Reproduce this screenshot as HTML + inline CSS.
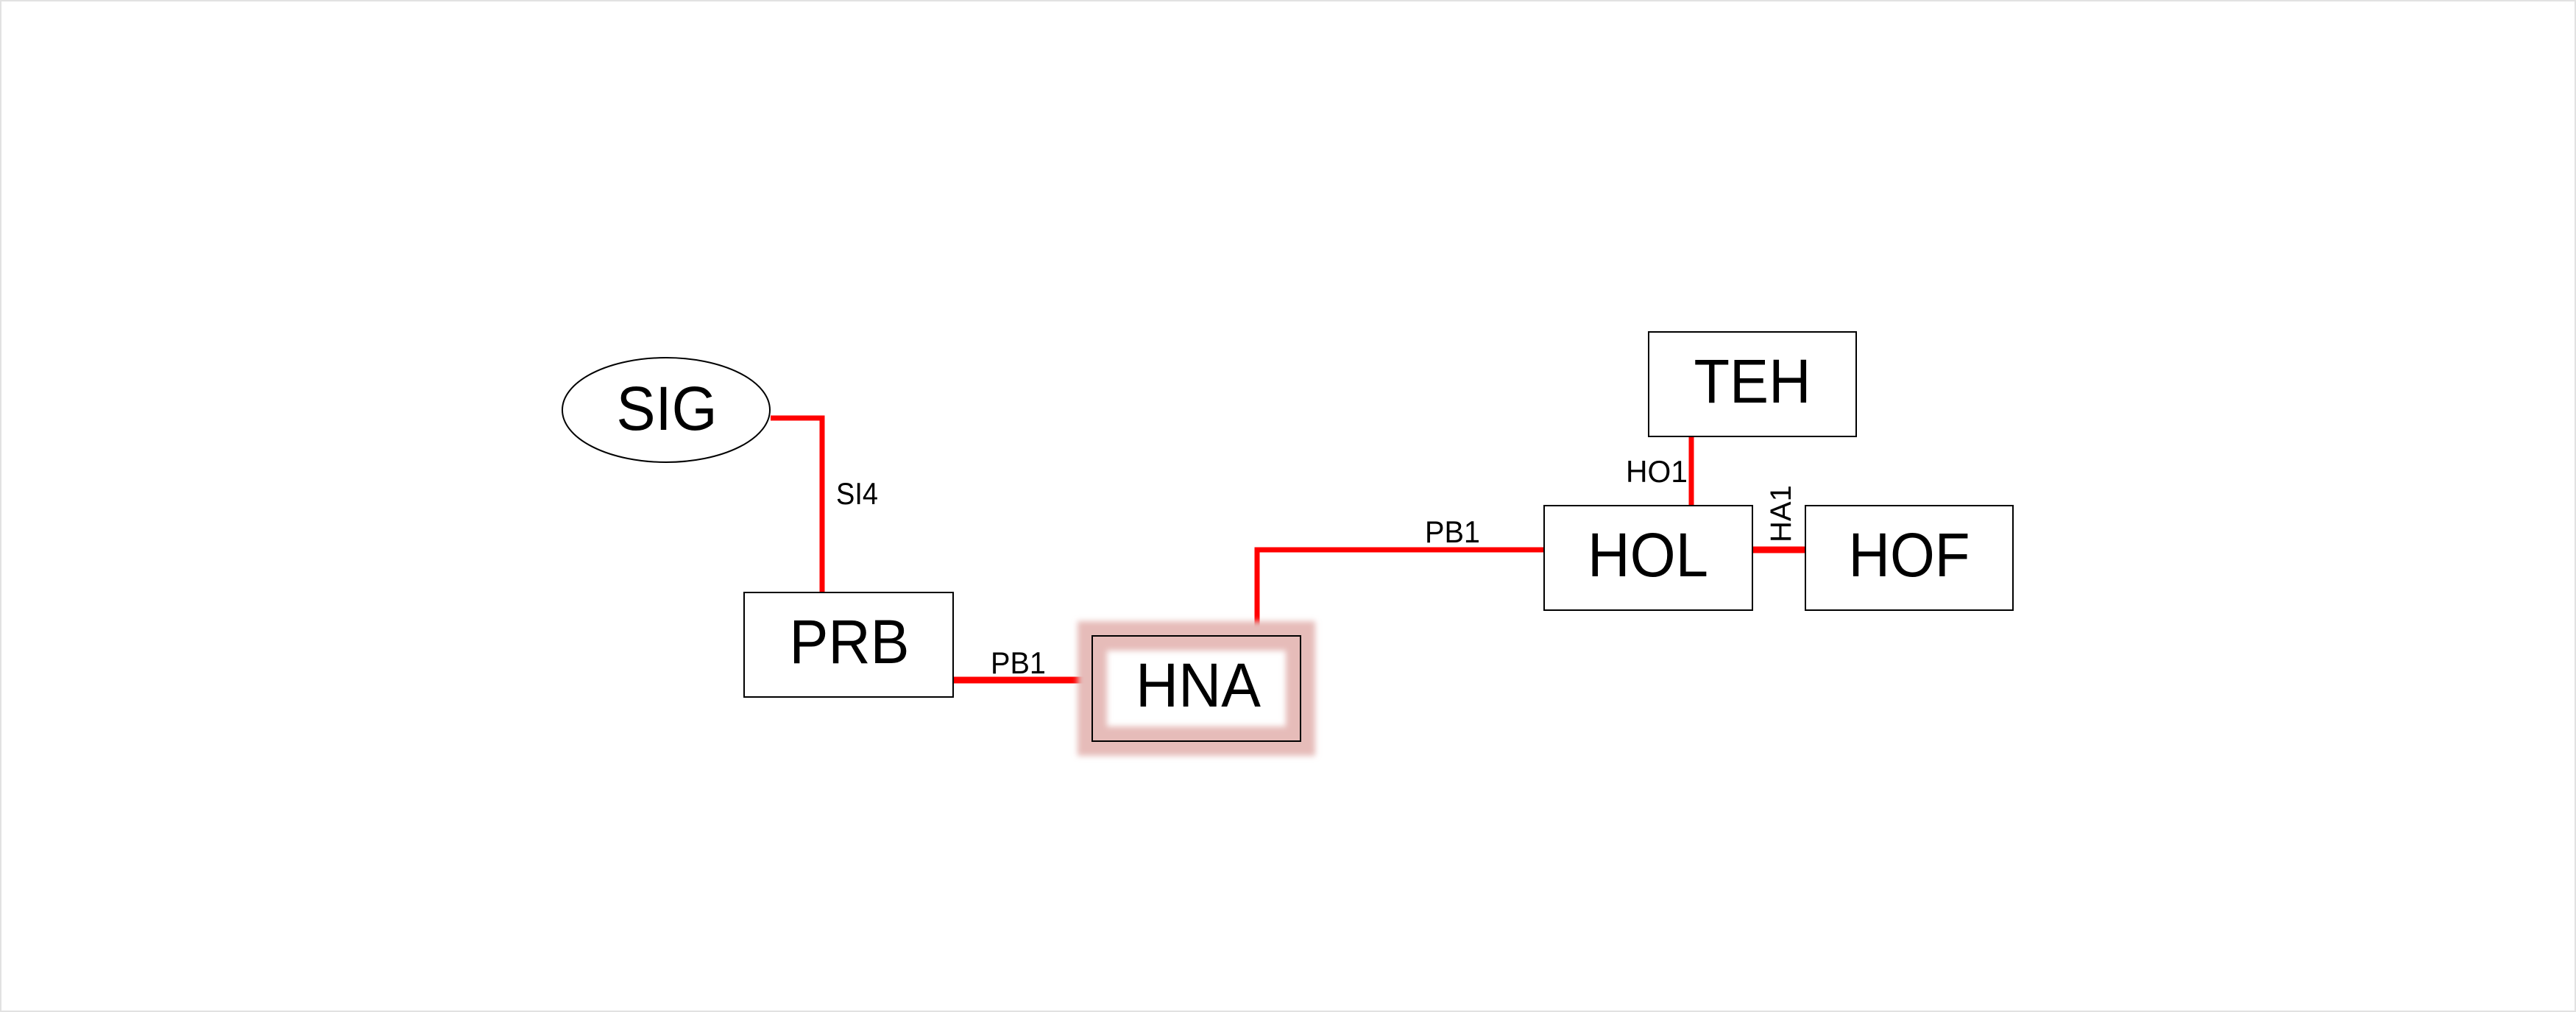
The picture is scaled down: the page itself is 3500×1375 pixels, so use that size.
<!DOCTYPE html>
<html><head><meta charset="utf-8"><style>
html,body{margin:0;padding:0;background:#fff;}
svg{display:block;}
text{font-family:"Liberation Sans",Arial,sans-serif;fill:#000;}
</style></head><body>
<svg width="3500" height="1375" viewBox="0 0 3500 1375" xmlns="http://www.w3.org/2000/svg">
<defs>
<filter id="glow" x="-30%" y="-30%" width="160%" height="160%"><feGaussianBlur stdDeviation="4"/></filter>
</defs>
<rect x="1" y="1" width="3498" height="1373" fill="#fff" stroke="#e2e2e2" stroke-width="2"/>

<!-- connectors -->
<g stroke="#ff0000" fill="none" stroke-width="7">
<polyline points="1047,568 1117,568 1117,805"/>
<line x1="1295" y1="924" x2="1484" y2="924" stroke-width="9"/>
<polyline points="1708,864 1708,747 2098,747" stroke-width="7"/>
<line x1="2298" y1="593" x2="2298" y2="687"/>
<line x1="2381" y1="747" x2="2453" y2="747" stroke-width="9"/>
</g>

<!-- SIG -->
<ellipse cx="905" cy="557" rx="141" ry="71" fill="#fff" stroke="#000" stroke-width="2"/>
<text x="906" y="584" font-size="84" text-anchor="middle" textLength="137" lengthAdjust="spacingAndGlyphs">SIG</text>

<!-- PRB -->
<rect x="1011" y="805" width="284" height="142" fill="#fff" stroke="#000" stroke-width="2"/>
<text x="1154" y="901" font-size="84" text-anchor="middle" textLength="163" lengthAdjust="spacingAndGlyphs">PRB</text>

<!-- HNA with glow -->
<rect x="1484" y="864" width="283" height="143" fill="none" stroke="#e6bcb9" stroke-width="40" filter="url(#glow)"/>
<rect x="1484" y="864" width="283" height="143" fill="none" stroke="#000" stroke-width="2"/>
<text x="1628" y="960" font-size="84" text-anchor="middle" textLength="170" lengthAdjust="spacingAndGlyphs">HNA</text>

<!-- TEH -->
<rect x="2240" y="451" width="282" height="142" fill="#fff" stroke="#000" stroke-width="2"/>
<text x="2381" y="547" font-size="84" text-anchor="middle" textLength="159" lengthAdjust="spacingAndGlyphs">TEH</text>

<!-- HOL -->
<rect x="2098" y="687" width="283" height="142" fill="#fff" stroke="#000" stroke-width="2"/>
<text x="2239" y="783" font-size="84" text-anchor="middle" textLength="164" lengthAdjust="spacingAndGlyphs">HOL</text>

<!-- HOF -->
<rect x="2453" y="687" width="282" height="142" fill="#fff" stroke="#000" stroke-width="2"/>
<text x="2594" y="783" font-size="84" text-anchor="middle" textLength="165" lengthAdjust="spacingAndGlyphs">HOF</text>

<!-- labels -->
<text x="1136" y="685" font-size="42" textLength="57" lengthAdjust="spacingAndGlyphs">SI4</text>
<text x="1346" y="915" font-size="42" textLength="75" lengthAdjust="spacingAndGlyphs">PB1</text>
<text x="1936" y="737" font-size="42" textLength="75" lengthAdjust="spacingAndGlyphs">PB1</text>
<text x="2209" y="655" font-size="42" textLength="84" lengthAdjust="spacingAndGlyphs">HO1</text>
<text transform="translate(2433,737) rotate(-90)" font-size="40">HA1</text>
</svg>
</body></html>
